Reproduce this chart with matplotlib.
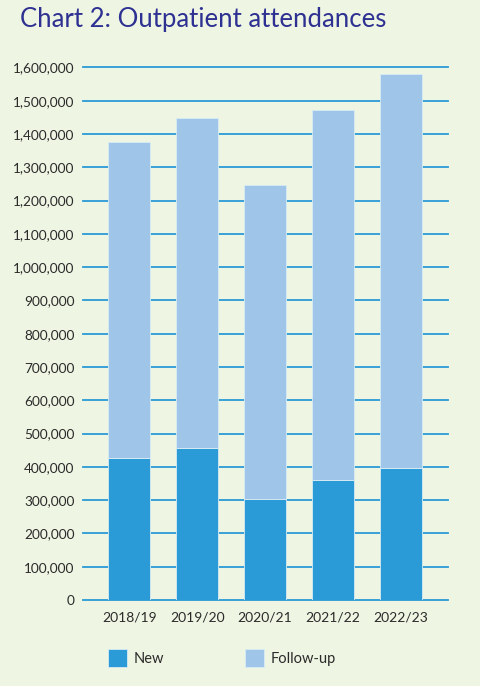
import matplotlib
matplotlib.use("Agg")
import matplotlib.pyplot as plt
from matplotlib.patches import Rectangle
from matplotlib.ticker import FuncFormatter, MultipleLocator

years = ["2018/19", "2019/20", "2020/21", "2021/22", "2022/23"]
new = [428000, 458000, 303000, 361000, 396000]
totals = [1375000, 1447000, 1247000, 1473000, 1581000]
follow_up = [t - n for t, n in zip(totals, new)]

BG = "#eef5e3"
C_NEW = "#2a9bd6"
C_FU = "#9fc5e8"
GRID = "#2a9bd6"
TXT = "#2b2b2b"
TITLE = "#2e3192"

plt.rcParams['font.family'] = ['Lato', 'DejaVu Sans']

fig = plt.figure(figsize=(4.8, 6.86), dpi=100, facecolor=BG)
ax = fig.add_axes([83/480, 1-600/686, (448-83)/480, (600-67.5)/686])
ax.set_facecolor(BG)

x = range(len(years))
ax.bar(x, new, width=0.62, color=C_NEW, edgecolor="#d8ecf5", linewidth=0.6, zorder=3)
ax.bar(x, follow_up, bottom=new, width=0.62, color=C_FU, edgecolor="#d8ecf5", linewidth=0.6, zorder=3)

ax.set_ylim(0, 1600000)
ax.set_xlim(-0.68, 4.69)
ax.yaxis.set_major_locator(MultipleLocator(100000))
ax.yaxis.set_major_formatter(FuncFormatter(lambda v, p: f"{int(v):,}"))
ax.grid(axis='y', color=GRID, linewidth=1.3, zorder=1)
ax.set_axisbelow(True)
for line in ax.get_ygridlines():
    line.set_clip_on(False)
for s in ax.spines.values():
    s.set_visible(False)
ax.tick_params(axis='y', length=0, pad=6, labelsize=9.8, labelcolor=TXT)
ax.tick_params(axis='x', length=0, pad=8, labelsize=10, labelcolor=TXT)
ax.set_xticks(list(x))
ax.set_xticklabels(years)

fig.text(20/480, 1-20/686, "Chart 2: Outpatient attendances", fontsize=18.5,
         color=TITLE, ha='left', va='center')

# legend
for (lx, label, col) in [(108, "New", C_NEW), (245, "Follow-up", C_FU)]:
    fig.patches.append(Rectangle((lx/480, 1-667/686), 19/480, 18/686,
                                 transform=fig.transFigure, facecolor=col,
                                 edgecolor="#d8ecf5", linewidth=0.6))
    fig.text((lx+26)/480, 1-659/686, label, fontsize=10.5, color=TXT,
             ha='left', va='center')

fig.savefig("out.png", dpi=100, facecolor=BG)
